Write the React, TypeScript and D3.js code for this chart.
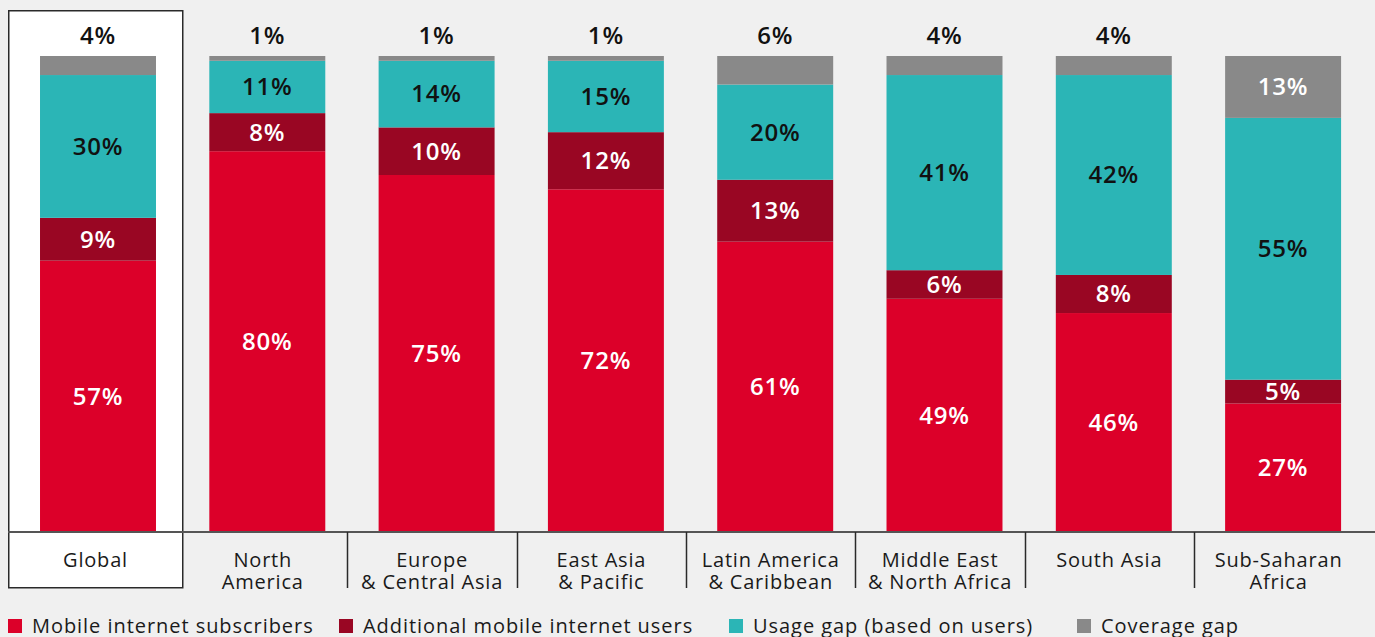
import React, { useEffect, useRef } from "react";
import * as d3 from "d3";

const categories = [
  ["Global"],
  ["North", "America"],
  ["Europe", "& Central Asia"],
  ["East Asia", "& Pacific"],
  ["Latin America", "& Caribbean"],
  ["Middle East", "& North Africa"],
  ["South Asia"],
  ["Sub-Saharan", "Africa"],
];
const subscribers = [57, 80, 75, 72, 61, 49, 46, 27];
const additional = [9, 8, 10, 12, 13, 6, 8, 5];
const usageGap = [30, 11, 14, 15, 20, 41, 42, 55];
const coverageGap = [4, 1, 1, 1, 6, 4, 4, 13];

const seriesNames = [
  "Mobile internet subscribers",
  "Additional mobile internet users",
  "Usage gap (based on users)",
  "Coverage gap",
];
const colors = ["#dc0029", "#990623", "#2bb5b6", "#898989"];
const textColors = ["#ffffff", "#ffffff", "#111111", "#ffffff"];

const W = 1375;
const H = 637;
const FONT = "'Open Sans', Lato, sans-serif";

export default function App() {
  const ref = useRef<SVGSVGElement>(null);
  useEffect(() => {
    const svg = d3.select(ref.current);
    svg.selectAll("*").remove();
    const keys = categories.map((c) => c.join(" "));
    const rows = keys.map((k, i) => ({
      key: k,
      s0: subscribers[i],
      s1: additional[i],
      s2: usageGap[i],
      s3: coverageGap[i],
    }));
    const stack = d3.stack<any>().keys(["s0", "s1", "s2", "s3"]);
    const series = stack(rows);

    const x = d3
      .scaleBand<string>()
      .domain(keys)
      .range([13.35, 13.35 + 8 * 169.3])
      .paddingInner(0.315)
      .paddingOuter(0.1575);
    const y = d3.scaleLinear().domain([0, 100]).range([532, 56]);
    const step = x.step();
    const bw = x.bandwidth();

    svg.append("rect").attr("width", W).attr("height", H).attr("fill", "#f0f0f0");

    // Global highlight box
    svg
      .append("rect")
      .attr("x", 8.75)
      .attr("y", 10.75)
      .attr("width", 174)
      .attr("height", 577)
      .attr("fill", "#ffffff")
      .attr("stroke", "#2a2a2a")
      .attr("stroke-width", 1.5);

    // bars
    series.forEach((s, si) => {
      svg
        .append("g")
        .selectAll("rect")
        .data(s)
        .join("rect")
        .attr("x", (d: any) => x(d.data.key)!)
        .attr("width", bw)
        .attr("y", (d: any) => y(d[1]))
        .attr("height", (d: any) => y(d[0]) - y(d[1]))
        .attr("fill", colors[si]);
    });

    // labels
    series.forEach((s, si) => {
      s.forEach((d: any) => {
        const v = d[1] - d[0];
        const cx = x(d.data.key)! + bw / 2;
        let ty: number;
        let fill: string;
        if (si === 3 && v < 10) {
          ty = y(d[1]) - 20;
          fill = "#111111";
        } else {
          ty = (y(d[0]) + y(d[1])) / 2;
          fill = textColors[si];
        }
        svg
          .append("text")
          .attr("x", cx)
          .attr("y", ty)
          .attr("dy", "0.35em")
          .attr("text-anchor", "middle")
          .attr("font-family", FONT)
          .attr("font-size", 24)
          .attr("font-weight", 600)
          .attr("letter-spacing", 0.8)
          .attr("fill", fill)
          .text(`${v}%`);
      });
    });

    // axis line
    svg
      .append("line")
      .attr("x1", 8)
      .attr("x2", W)
      .attr("y1", 532)
      .attr("y2", 532)
      .attr("stroke", "#555555")
      .attr("stroke-width", 2);

    // cell separators
    keys.forEach((k, i) => {
      if (i === 0 || i === keys.length - 1) return;
      const sx = Math.round(x(k)! + bw + (step - bw) / 2 - 4.5) + 0.5;
      svg
        .append("line")
        .attr("x1", sx)
        .attr("x2", sx)
        .attr("y1", 532)
        .attr("y2", 588)
        .attr("stroke", "#2a2a2a")
        .attr("stroke-width", 1.5);
    });

    // category labels
    keys.forEach((k, i) => {
      const left = i === 0 ? 8 : x(k)! - (step - bw) / 2 - 4.5;
      const right = i === 0 ? 183 : x(k)! + bw + (step - bw) / 2 - 4.5;
      const cx = (left + right) / 2;
      categories[i].forEach((line, li) => {
        svg
          .append("text")
          .attr("x", cx)
          .attr("y", 567 + li * 22)
          .attr("text-anchor", "middle")
          .attr("font-family", FONT)
          .attr("font-size", 20)
          .attr("letter-spacing", 0.8)
          .attr("fill", "#1a1a1a")
          .text(line);
      });
    });

    // legend
    const legendX = [8, 339, 729, 1077];
    seriesNames.forEach((n, i) => {
      svg
        .append("rect")
        .attr("x", legendX[i])
        .attr("y", 619)
        .attr("width", 14)
        .attr("height", 14)
        .attr("fill", colors[i]);
      svg
        .append("text")
        .attr("x", legendX[i] + 24)
        .attr("y", 633)
        .attr("font-family", FONT)
        .attr("font-size", 20)
        .attr("letter-spacing", 0.95)
        .attr("fill", "#1a1a1a")
        .text(n);
    });
  }, []);
  return (
    <svg
      ref={ref}
      width={W}
      height={H}
      style={{ position: "absolute", left: 0, top: 0, display: "block" }}
    />
  );
}
